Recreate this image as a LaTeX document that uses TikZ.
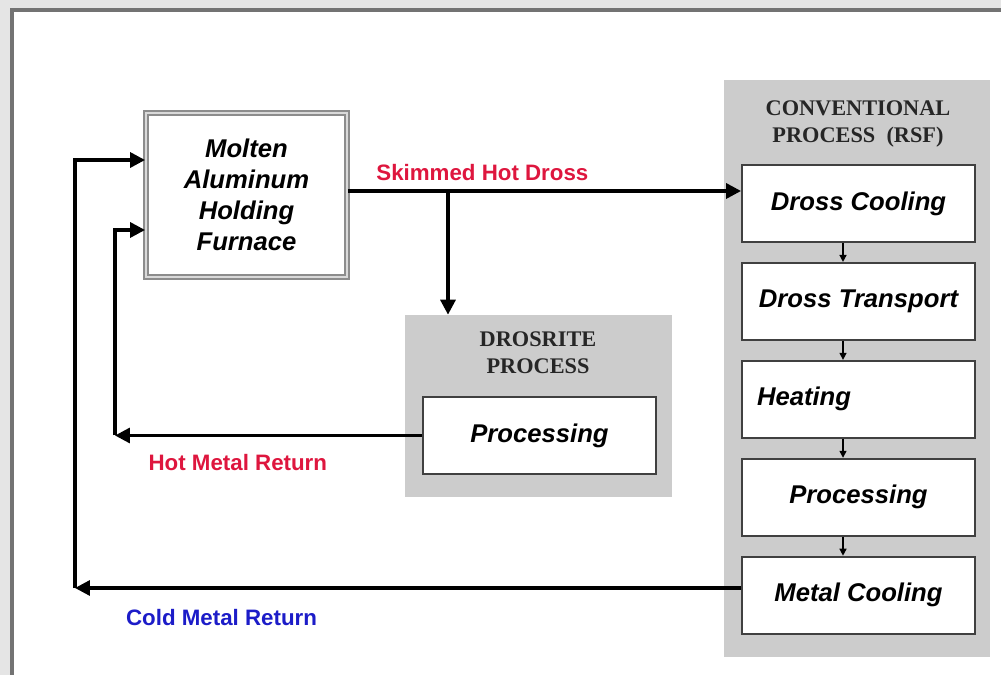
\documentclass[tikz,border=0pt]{standalone}
\usepackage{fontspec}
\setmainfont{Liberation Serif}
\setsansfont{Liberation Sans}
\usetikzlibrary{arrows.meta,positioning}
\definecolor{hotred}{RGB}{222,22,62}
\definecolor{coldblue}{RGB}{28,28,200}

\begin{document}
\begin{tikzpicture}[x=0.02cm,y=-0.02cm,>={Triangle[length=8.5pt,width=8.5pt]},node distance=0.38cm,
    box/.style={draw=black!75,line width=1.1pt,fill=white,minimum width=4.66cm,minimum height=1.54cm,
      font=\sffamily\bfseries\itshape\fontsize{14.6}{17.6}\selectfont},
    panel/.style={fill=black!20,inner sep=0pt},
    head/.style={align=center,text=black!85,font=\bfseries\fontsize{12.7}{15.4}\selectfont},
    flow/.style={line width=1.9pt,->},
    tick/.style={line width=0.8pt,-{Triangle[length=4pt,width=4pt]}},
    tag/.style={inner sep=2pt,font=\sffamily\bfseries\fontsize{12.7}{15}\selectfont}]

  \useasboundingbox (0,0) rectangle (1001,675);
  \fill[black!10] (0,0) rectangle (1001,9);
  \fill[black!10] (0,0) rectangle (11,675);
  \draw[black!55,line width=2.5pt] (12,675) -- (12,10) -- (1001,10);

  \node[panel,minimum width=5.32cm,minimum height=11.54cm] (conv) at (857,368.5) {};
  \node[panel,minimum width=5.34cm,minimum height=3.64cm] (dros) at (538.5,406) {};
  \node[head] (convhead) at (858,124) {CONVENTIONAL\\PROCESS\ \ (RSF)};
  \node[head] (droshead) at (538,353) {DROSRITE\\PROCESS};

  \node[box,draw=black!45,line width=1.1pt,double=black!15,double distance=1.2pt,
    minimum width=4.02cm,minimum height=3.28cm,align=center] (furn) at (246.5,195)
    {Molten\\Aluminum\\Holding\\Furnace};
  \node[box] (proc) at (539.5,435.5) {Processing};

  \node[box] (cool) at (858.5,203.5) {Dross Cooling};
  \node[box,below=of cool] (trans) {Dross Transport};
  \node[box,below=of trans] (heat) {Heating\kern62pt};
  \node[box,below=of heat] (proc2) {Processing};
  \node[box,below=of proc2] (metal) {Metal Cooling};

  \coordinate (skim) at (448,191);
  \coordinate (hot) at (115,436);
  \coordinate (cold) at (75,588);

  \draw[flow] (furn.east |- skim) -- node[tag,above=3pt,pos=0.342,text=hotred] (skimtag) {Skimmed Hot Dross} (cool.west |- skim);
  \draw[flow] (skim) -- (skim |- dros.north);

  \draw[flow] (proc.west) -- node[tag,below=8pt,pos=0.6,text=hotred] (hottag) {Hot Metal Return} (proc.west -| hot);
  \draw[flow] (proc.west -| hot) |- ([yshift=-0.7cm]furn.west);

  \draw[flow] (metal.west |- cold) -- node[tag,below=9pt,pos=0.78,text=coldblue] (coldtag) {Cold Metal Return} (cold);
  \draw[flow] (cold) |- ([yshift=0.7cm]furn.west);

  \foreach \a/\b in {cool/trans,trans/heat,heat/proc2,proc2/metal}
    \draw[tick] ([xshift=-0.31cm]\a.south) -- ([xshift=-0.31cm]\b.north);
\end{tikzpicture}
\end{document}
